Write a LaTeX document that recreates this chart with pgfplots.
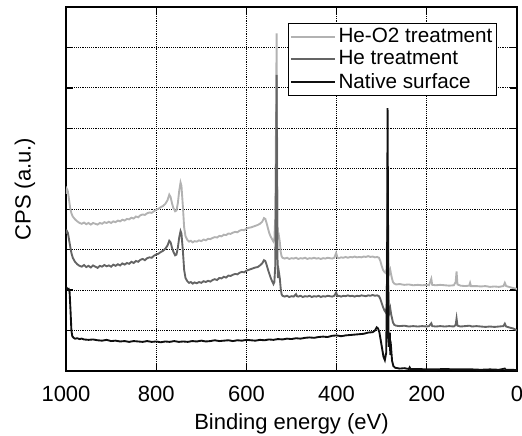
\documentclass[border=0pt]{standalone}
\usepackage{fontspec}
\setmainfont{Liberation Sans}
\usepackage{pgfplots}
\pgfplotsset{compat=1.18}
\usepackage{pgfplotstable}
\definecolor{cHeO}{RGB}{178,178,178}
\definecolor{cHe}{RGB}{100,100,100}
\definecolor{cNat}{RGB}{15,15,15}

\pgfplotstableread{
E v
1000 2.00
998 2.05
996 2.02
994 2.03
992 1.95
990 1.5
988 1.0
986 0.86
983 0.82
980 0.80
975 0.81
970 0.79
965 0.80
960 0.78
950 0.77
940 0.78
930 0.76
920 0.75
910 0.77
900 0.74
890 0.75
880 0.73
870 0.74
860 0.72
850 0.74
840 0.73
830 0.72
820 0.74
810 0.72
800 0.73
790 0.71
780 0.73
770 0.72
760 0.74
750 0.72
740 0.73
730 0.72
720 0.74
710 0.73
700 0.75
690 0.73
680 0.74
670 0.76
660 0.74
650 0.75
640 0.76
630 0.74
620 0.76
610 0.75
600 0.77
590 0.76
580 0.75
570 0.77
560 0.76
550 0.78
540 0.77
530 0.79
520 0.78
510 0.80
500 0.79
490 0.81
480 0.80
470 0.82
460 0.83
450 0.82
440 0.84
430 0.85
420 0.84
410 0.87
400 0.88
390 0.86
380 0.88
370 0.89
360 0.90
350 0.91
340 0.92
330 0.95
320 0.96
315 1.00
311 1.08
308 1.05
305 0.95
302 0.75
299 0.55
296 0.35
293 0.27
290 0.45
288 2.5
287 6.5
286 4.0
285 1.0
284 0.6
282 0.95
281 0.4
279 0.55
277 0.25
274 0.12
270 0.08
260 0.06
250 0.07
240 0.05
238 0.09
236 0.05
220 0.05
200 0.04
180 0.04
160 0.05
140 0.04
120 0.04
100 0.04
80 0.03
60 0.04
40 0.03
27 0.06
25 0.03
10 0.03
0 0.02
}\tabnat

\pgfplotstableread{
E v
1000 3.40
998 3.46
996 3.42
994 3.30
991 3.10
988 2.92
985 2.80
980 2.70
975 2.64
970 2.60
965 2.58
960 2.62
955 2.57
950 2.60
945 2.56
940 2.61
935 2.58
930 2.55
925 2.60
920 2.58
915 2.62
910 2.59
905 2.61
900 2.58
895 2.63
890 2.60
885 2.64
880 2.61
875 2.66
870 2.63
865 2.67
860 2.65
855 2.70
850 2.67
845 2.72
840 2.70
835 2.75
830 2.77
825 2.74
820 2.79
815 2.81
810 2.80
805 2.85
800 2.88
795 2.90
790 2.94
785 2.97
780 3.02
775 3.10
771 3.22
768 3.18
765 3.05
762 2.95
758 2.86
755 2.88
752 3.05
749 3.30
746 3.46
744 3.40
741 3.00
738 2.50
735 2.30
731 2.22
727 2.18
723 2.20
719 2.16
715 2.19
710 2.17
705 2.20
700 2.18
695 2.22
690 2.20
685 2.23
680 2.21
675 2.25
670 2.27
665 2.25
660 2.30
655 2.29
650 2.33
645 2.31
640 2.36
635 2.35
630 2.38
625 2.40
620 2.39
615 2.43
610 2.45
605 2.44
600 2.48
595 2.50
590 2.52
585 2.54
580 2.56
575 2.57
570 2.61
565 2.66
561 2.74
558 2.72
555 2.62
552 2.50
549 2.40
546 2.30
543 2.22
540 2.15
538 2.20
536 2.60
534 5.0
533 7.32
532 4.5
531 2.8
530 2.3
528 2.45
526 2.30
524 2.05
522 1.90
520 1.86
515 1.84
510 1.86
505 1.83
500 1.85
495 1.84
490 1.90
488 1.85
485 1.84
480 1.86
475 1.83
470 1.85
465 1.84
460 1.86
455 1.83
450 1.85
445 1.84
440 1.86
435 1.83
430 1.85
425 1.84
420 1.86
415 1.85
410 1.84
405 1.86
401 1.94
398 1.85
395 1.86
390 1.84
385 1.86
380 1.85
375 1.87
370 1.85
365 1.86
360 1.84
355 1.86
350 1.85
345 1.87
340 1.86
335 1.85
330 1.87
325 1.86
320 1.88
315 1.86
310 1.87
306 1.85
303 1.78
300 1.68
297 1.58
294 1.50
291 1.45
289 1.60
288 2.5
287 3.5
286 2.2
285 1.55
283 1.45
281 1.55
279 1.40
277 1.30
275 1.20
272 1.14
268 1.12
260 1.11
250 1.12
240 1.10
230 1.11
220 1.10
210 1.11
200 1.10
195 1.11
190 1.18
188 1.11
180 1.10
170 1.11
160 1.10
150 1.11
140 1.10
136 1.14
134 1.30
132 1.12
125 1.10
115 1.11
105 1.12
100 1.10
90 1.11
80 1.10
70 1.09
60 1.10
50 1.09
40 1.10
30 1.11
27 1.17
24 1.10
15 1.07
8 1.05
3 1.02
0 1.00
}\tabhe

\pgfplotstableread{
E v
1000 4.38
998 4.50
996 4.45
994 4.30
991 4.05
988 3.90
985 3.82
980 3.75
975 3.70
970 3.66
965 3.64
960 3.67
955 3.63
950 3.66
945 3.62
940 3.66
935 3.64
930 3.62
925 3.66
920 3.64
915 3.68
910 3.66
905 3.69
900 3.66
895 3.70
890 3.68
885 3.72
880 3.70
875 3.74
870 3.72
865 3.76
860 3.75
855 3.79
850 3.77
845 3.82
840 3.80
835 3.85
830 3.87
825 3.86
820 3.90
815 3.92
810 3.91
805 3.95
800 3.99
795 4.01
790 4.05
785 4.08
780 4.13
775 4.22
771 4.36
768 4.30
765 4.15
762 4.03
758 3.95
755 3.97
752 4.15
749 4.45
746 4.66
744 4.58
741 4.10
738 3.55
735 3.33
731 3.24
727 3.20
723 3.22
719 3.18
715 3.21
710 3.20
705 3.23
700 3.21
695 3.25
690 3.23
685 3.27
680 3.26
675 3.29
670 3.31
665 3.30
660 3.34
655 3.33
650 3.37
645 3.36
640 3.40
635 3.39
630 3.42
625 3.44
620 3.43
615 3.47
610 3.49
605 3.48
600 3.52
595 3.54
590 3.55
585 3.57
580 3.59
575 3.61
570 3.64
565 3.69
561 3.78
558 3.76
555 3.65
552 3.52
549 3.40
546 3.32
543 3.26
540 3.20
538 3.25
536 3.8
534 6.5
533 8.35
532 5.8
531 3.6
530 3.3
528 3.35
526 3.20
524 2.95
522 2.84
520 2.80
515 2.78
510 2.80
505 2.77
500 2.79
495 2.78
490 2.80
485 2.77
480 2.79
475 2.78
470 2.80
465 2.77
460 2.79
455 2.78
450 2.80
445 2.78
440 2.79
435 2.77
430 2.79
425 2.78
420 2.80
415 2.79
410 2.78
405 2.80
401 2.92
398 2.80
395 2.79
390 2.81
385 2.80
380 2.82
375 2.80
370 2.82
365 2.81
360 2.83
355 2.81
350 2.82
345 2.81
340 2.83
335 2.82
330 2.84
325 2.82
320 2.83
315 2.81
310 2.82
306 2.80
303 2.72
300 2.60
297 2.50
294 2.45
291 2.42
289 2.55
288 3.4
287 4.4
286 3.0
285 2.50
283 2.42
281 2.50
279 2.38
277 2.28
275 2.20
272 2.16
268 2.14
260 2.15
250 2.13
240 2.14
230 2.12
220 2.13
210 2.12
200 2.13
195 2.12
190 2.28
188 2.13
180 2.12
170 2.13
160 2.12
150 2.11
140 2.12
136 2.20
134 2.46
132 2.14
125 2.11
115 2.10
106 2.11
104 2.18
102 2.10
90 2.10
80 2.09
70 2.10
60 2.08
50 2.09
40 2.08
30 2.10
27 2.18
24 2.10
15 2.07
8 2.05
3 2.04
0 2.02
}\tabheo

\begin{document}
\fontsize{16pt}{18pt}\selectfont
\begin{tikzpicture}
\useasboundingbox (-49.5pt,-48.75pt) rectangle (342pt,278.25pt);
\begin{axis}[
  name=ax,
  at={(0pt,0pt)}, anchor=south west,
  scale only axis,
  width=338.25pt, height=273pt,
  x dir=reverse,
  xmin=0, xmax=1000, ymin=0, ymax=9,
  xtick={0,200,400,600,800,1000},
  ytick={1,2,3,4,5,6,7,8},
  yticklabels={},
  tick align=inside,
  major tick length=5pt,
  tick style={black, line width=1pt},
  axis line style={line width=1.3pt},
  grid=major,
  grid style={densely dotted, black, line width=0.7pt},
  /pgf/number format/assume math mode=true,
  /pgf/number format/1000 sep={},
  ticklabel style={font=\fontsize{16.5pt}{18pt}\selectfont},
  xticklabel style={yshift=-6pt},
  xlabel={Binding energy (eV)},
  ylabel={CPS (a.u.)},
  label style={font=\fontsize{16.5pt}{18pt}\selectfont},
  xlabel style={at={(axis description cs:0.5,0)}, anchor=center, yshift=-39.5pt},
  ylabel style={at={(axis description cs:-0.091,0.5)}, anchor=center},
  legend style={at={(0.956,0.956)}, anchor=north east, draw=black, line width=1pt,
     font=\fontsize{15.5pt}{18.5pt}\selectfont, inner sep=1pt, row sep=0pt},
  legend cell align=left,
  legend image code/.code={\draw[#1, line width=1.5pt] (2pt,0pt) -- (35pt,0pt);},
]
\addplot[cHeO, line width=1.4pt] table[x=E,y=v]{\tabheo};
\addlegendentry{He-O2 treatment}
\addplot[cHe, line width=1.4pt] table[x=E,y=v]{\tabhe};
\addlegendentry{He treatment}
\addplot[cNat, line width=1.4pt] table[x=E,y=v]{\tabnat};
\addlegendentry{Native surface}
\end{axis}
\end{tikzpicture}
\end{document}
